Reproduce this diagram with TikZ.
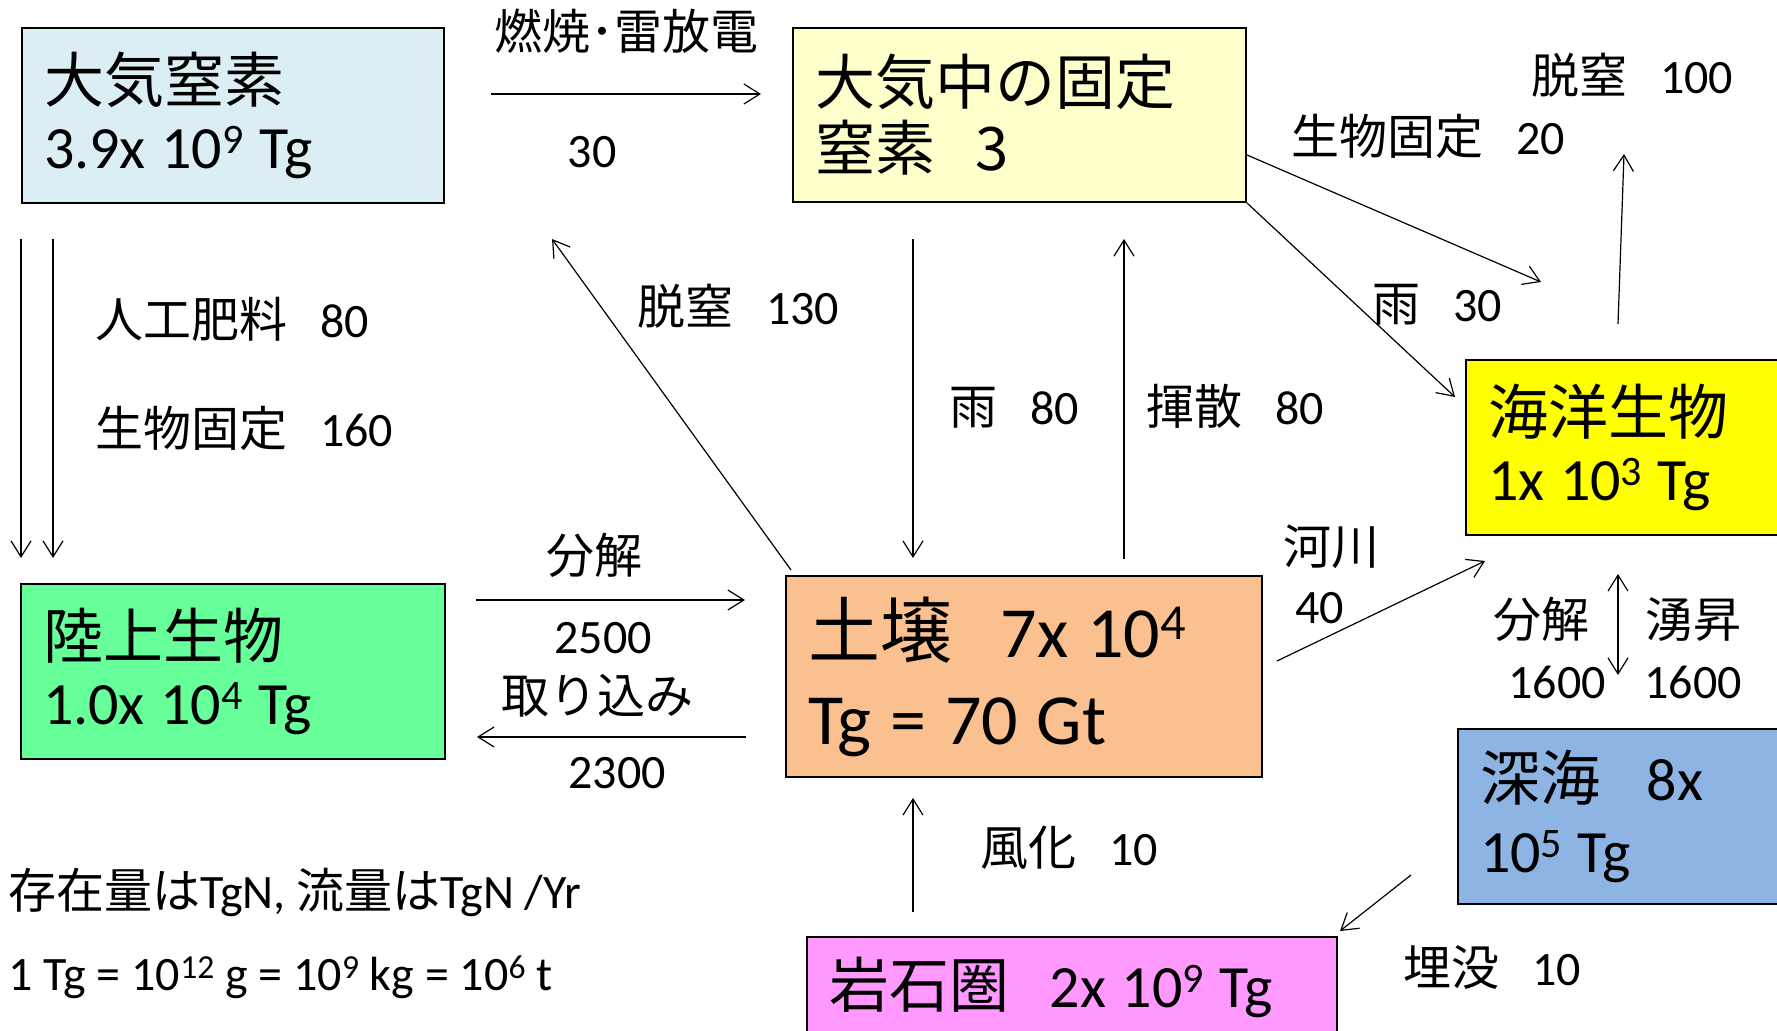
\documentclass[tikz,border=0pt]{standalone}
\usepackage{fontspec}
\setmainfont{Carlito}
\newfontfamily\jp{Noto Sans CJK JP}
\usepackage{tikz}
\usetikzlibrary{calc,arrows.meta}

\definecolor{airN}{HTML}{DBEEF4}
\definecolor{fixN}{HTML}{FFFFCC}
\definecolor{seaLife}{HTML}{FFFF00}
\definecolor{landLife}{HTML}{66FF99}
\definecolor{soil}{HTML}{FAC090}
\definecolor{deepSea}{HTML}{8DB4E2}
\definecolor{rock}{HTML}{FF99FF}

\newcommand{\jsp}{\hspace{0.68em}}
\newcommand{\pw}[1]{\raisebox{0.25em}{\scalebox{0.7}{#1}}}

\begin{document}
\begin{tikzpicture}[x=0.5pt,y=-0.5pt,>={Straight Barb[length=8pt,width=10pt]},
                    flow/.style={->,line width=0.6pt}]
  \tikzstyle{pool}=[draw,line width=1pt,anchor=north west,inner xsep=11pt,inner ysep=0pt,
                    align=left,font=\fontsize{30}{33}\selectfont,
                    execute at begin node={\spaceskip 7.8pt\relax}]
  \tikzstyle{lab}=[inner sep=0pt,font=\fontsize{24}{28}\selectfont]

  \useasboundingbox (0,0) rectangle (1777,1031);

  \node[pool,fill=airN,text width=189pt,minimum height=87.5pt]     (A) at (21,27)    {{\jp 大気窒素}\\3.9x 10\pw{9} Tg};
  \node[pool,fill=fixN,text width=204.5pt,minimum height=87pt]     (B) at (792,27)   {\jp 大気中の固定\\{\jp 窒素}\jsp 3};
  \node[pool,fill=seaLife,text width=150pt,minimum height=87.5pt]  (C) at (1465,359) {{\jp 海洋生物}\\1x 10\pw{3} Tg};
  \node[pool,fill=landLife,text width=190pt,minimum height=87.5pt] (D) at (20,583)   {{\jp 陸上生物}\\1.0x 10\pw{4} Tg};
  \node[pool,fill=soil,text width=216pt,minimum height=100.5pt,
        font=\fontsize{36}{43.5}\selectfont,
        execute at begin node={\spaceskip 9.4pt\relax}]            (E) at (785,575)  {{\jp 土壌}\jsp 7x 10\pw{4}\\Tg = 70 Gt};
  \node[pool,fill=deepSea,text width=155pt,minimum height=87.5pt,
        font=\fontsize{30}{36}\selectfont]                          (F) at (1457,728) {{\jp 深海}\hspace{0.78em}8x\\10\pw{5} Tg};
  \node[pool,fill=rock,text width=243pt,minimum height=50pt]       (G) at (806,936)  {{\jp 岩石圏}\jsp 2x 10\pw{9} Tg};

  % flows
  \draw[flow] ($(A.north east)+(46,67)$) -- ($(B.north west)+(-31,67)$);
  \draw[flow] ($(A.south west)+(0,35)$) -- ($(D.north west)+(1,-25)$);
  \draw[flow] ($(A.south west)+(32,35)$) -- ($(D.north west)+(33,-25)$);
  \draw[flow] ($(E.north west)+(6,-5)$) -- ($(A.south east)+(107,35)$);
  \draw[flow] ($(B.south west)+(121,36)$) -- ($(E.north west)+(128,-17)$);
  \draw[flow] ($(E.north west)+(339,-16)$) -- ($(B.south west)+(332,36)$);
  \draw[flow] ($(B.south east)+(0,-48)$) -- ($(C.north west)+(76,-77)$);
  \draw[flow] (B.south east) -- ($(C.north west)+(-10,38)$);
  \draw[flow] ($(C.north west)+(153,-35)$) -- ($(C.north west)+(159,-205)$);
  \draw[flow] ($(D.north east)+(30,17)$) -- ($(E.north west)+(-40,25)$);
  \draw[flow] ($(E.north west)+(-39,162)$) -- ($(D.north east)+(31,154)$);
  \draw[flow] ($(E.north east)+(14,86)$) -- ($(C.south west)+(20,25)$);
  \draw[flow,<->] ($(C.south west)+(153,38)$) -- ($(F.north west)+(161,-53)$);
  \draw[flow] ($(G.north west)+(107,-24)$) -- ($(E.south west)+(128,20)$);
  \draw[flow] ($(F.south west)+(-46,-30)$) -- ($(G.north east)+(2,-5)$);

  % labels
  \node[lab,anchor=base]      (burnL) at (626,50)   {\jp 燃焼･雷放電};
  \node[lab,anchor=base]      (burnV) at (592,168)  {30};
  \node[lab,anchor=base west] (fertL) at (95,338)   {{\jp 人工肥料}\jsp 80};
  \node[lab,anchor=base west] (fixL)  at (95,447)   {{\jp 生物固定}\jsp 160};
  \node[lab,anchor=base west] (denL)  at (637,325)  {{\jp 脱窒}\jsp 130};
  \node[lab,anchor=base west] (rainL) at (949,425)  {{\jp 雨}\jsp 80};
  \node[lab,anchor=base west] (volL)  at (1146,425) {{\jp 揮散}\jsp 80};
  \node[lab,anchor=base west] (ofixL) at (1291,155) {{\jp 生物固定}\jsp 20};
  \node[lab,anchor=base west] (odenL) at (1531,94)  {{\jp 脱窒}\jsp 100};
  \node[lab,anchor=base west] (orainL) at (1372,322) {{\jp 雨}\jsp 30};
  \node[lab,anchor=base]      (decL)  at (594,574)  {\jp 分解};
  \node[lab,anchor=base]      (decV)  at (603,653)  {2500};
  \node[lab,anchor=base]      (upL)   at (597,713)  {\jp 取り込み};
  \node[lab,anchor=base]      (upV)   at (617,788)  {2300};
  \node[lab,anchor=base west] (rivL)  at (1283,565) {\jp 河川};
  \node[lab,anchor=base west] (rivV)  at (1295,624) {40};
  \node[lab,anchor=base west] (sinkL) at (1493,637) {\jp 分解};
  \node[lab,anchor=base west] (riseL) at (1645,637) {\jp 湧昇};
  \node[lab,anchor=base west] (sinkV) at (1508,698) {1600};
  \node[lab,anchor=base west] (riseV) at (1644,698) {1600};
  \node[lab,anchor=base west] (weaL)  at (980,865)  {{\jp 風化}\jsp 10};
  \node[lab,anchor=base west] (burL)  at (1403,985) {{\jp 埋没}\jsp 10};

  % units
  \node[lab,anchor=base west] (unitA) at (8,908) {{\jp 存在量は}TgN, {\jp 流量は}TgN /Yr};
  \node[lab,anchor=base west] (unitB) at (8,990) {1 Tg = 10\pw{12} g = 10\pw{9} kg = 10\pw{6} t};
\end{tikzpicture}
\end{document}
